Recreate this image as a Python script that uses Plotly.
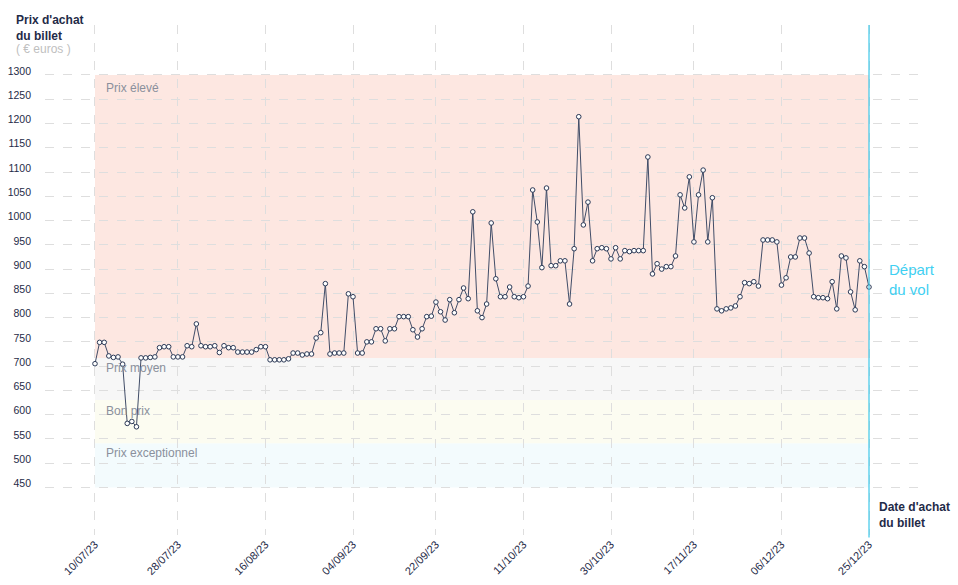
import pandas as pd
import plotly.graph_objects as go

# ---- data ----
start_date = "2023-07-10"
prices = [
    705, 749, 749, 721, 718, 719, 704, 582, 586, 575,
    717, 717, 718, 719, 738, 740, 740, 719, 719, 719,
    742, 740, 787, 742, 740, 740, 742, 728, 742, 738,
    738, 729, 729, 729, 729, 734, 740, 740, 713, 713,
    713, 713, 715, 727, 727, 723, 725, 725, 758, 769,
    870, 725, 727, 727, 727, 849, 843, 727, 727, 750,
    750, 777, 777, 752, 777, 777, 802, 802, 802, 775,
    760, 777, 802, 803, 832, 812, 795, 837, 810, 837,
    861, 839, 1018, 814, 800, 828, 995, 880, 843, 843,
    863, 843, 841, 843, 865, 1063, 997, 903, 1067, 907,
    907, 917, 917, 828, 942, 1214, 991, 1038, 917, 942,
    944, 942, 921, 944, 921, 938, 936, 938, 938, 938,
    1131, 890, 911, 900, 905, 905, 927, 1053, 1026, 1090,
    956, 1053, 1104, 956, 1047, 818, 814, 818, 820, 824,
    843, 872, 870, 874, 865, 960, 960, 960, 956, 867,
    882, 925, 925, 964, 964, 933, 843, 841, 841, 839,
    874, 818, 927, 923, 853, 816, 917, 905, 863,
]
dates = pd.date_range(start_date, periods=len(prices), freq="D")

tick_dates = ["2023-07-10", "2023-07-28", "2023-08-16", "2023-09-04", "2023-09-22",
              "2023-10-11", "2023-10-30", "2023-11-17", "2023-12-06", "2023-12-25"]
tick_labels = ["10/07/23", "28/07/23", "16/08/23", "04/09/23", "22/09/23",
               "11/10/23", "30/10/23", "17/11/23", "06/12/23", "25/12/23"]
y_ticks = list(range(450, 1301, 50))

band_names = ["Prix exceptionnel", "Bon prix", "Prix moyen", "Prix élevé"]
band_low = [450, 541, 630, 717]
band_high = [541, 630, 717, 1300]
band_colors = ["#f3fbfd", "#fcfcf1", "#f7f7f7", "#fde7e1"]
label_yshift = [-1, -2, -1, -4]

NAVY = "#1f2b48"
FONT = "Liberation Sans"

fig = go.Figure()
fig.add_trace(go.Scatter(
    x=dates, y=prices, mode="lines+markers",
    line=dict(color="#414d68", width=1),
    marker=dict(size=4.6, color="white", line=dict(color="#2b3956", width=1)),
    showlegend=False, hoverinfo="x+y",
))

first, last = dates[0], dates[-1]
for name, lo, hi, col, ys in zip(band_names, band_low, band_high, band_colors, label_yshift):
    fig.add_shape(type="rect", xref="x", yref="y", x0=first, x1=last, y0=lo, y1=hi,
                  fillcolor=col, line=dict(width=0), layer="below")
    fig.add_annotation(x=first, y=hi, xref="x", yref="y", text=name, showarrow=False,
                       xanchor="left", yanchor="top", xshift=9, yshift=ys,
                       font=dict(family=FONT, size=12, color="#8a909c"))

# departure line
fig.add_shape(type="line", xref="x", yref="paper", x0=last, x1=last, y0=-0.005, y1=1,
              line=dict(color="#3cc8ea", width=1.2))

pad = pd.Timedelta(days=10.85)
fig.update_xaxes(
    type="date", range=[first - pad, last + pad],
    tickvals=pd.to_datetime(tick_dates), ticktext=tick_labels, tickangle=-45,
    showgrid=True, gridcolor="#dedede", griddash="dash", gridwidth=1,
    zeroline=False, showline=False, ticks="", automargin=False,
    tickfont=dict(family=FONT, size=11, color=NAVY),
)
fig.update_yaxes(
    range=[352, 1403], tickvals=y_ticks,
    showgrid=True, gridcolor="#dedede", griddash="dash", gridwidth=1,
    zeroline=False, showline=False, ticks="", automargin=False,
    ticklabelstandoff=13, ticklabelshift=-4,
    tickfont=dict(family=FONT, size=10.5, color=NAVY),
)

W, H = 958, 585
L, R, T, B = 45, 39, 25, 50
pw, ph = W - L - R, H - T - B

def px(xp):
    return (xp - L) / pw

def py(yp):
    return (H - B - yp) / ph

fig.add_annotation(x=px(14), y=py(11), xref="paper", yref="paper", xanchor="left", yanchor="top",
                   text="<b>Prix d'achat<br>du billet</b>", showarrow=False, align="left",
                   font=dict(family=FONT, size=12, color=NAVY))
fig.add_annotation(x=px(14), y=py(40), xref="paper", yref="paper", xanchor="left", yanchor="top",
                   text="( € euros )", showarrow=False, align="left",
                   font=dict(family=FONT, size=12, color="#c0c0c0"))
fig.add_annotation(x=px(877), y=py(498), xref="paper", yref="paper", xanchor="left", yanchor="top",
                   text="<b>Date d'achat<br>du billet</b>", showarrow=False, align="left",
                   font=dict(family=FONT, size=12, color=NAVY))
fig.add_annotation(x=px(887), y=py(259), xref="paper", yref="paper", xanchor="left", yanchor="top",
                   text="Départ<br>du vol", showarrow=False, align="left",
                   font=dict(family=FONT, size=15, color="#3fd0f2"))

fig.update_layout(
    width=W, height=H, margin=dict(l=L, r=R, t=T, b=B),
    paper_bgcolor="white", plot_bgcolor="white",
    font=dict(family=FONT, color=NAVY),
)

fig.write_html(
    "out.html",
    config={"displayModeBar": False},
    post_script="document.body.style.margin='0';document.body.style.overflow='hidden';",
)
